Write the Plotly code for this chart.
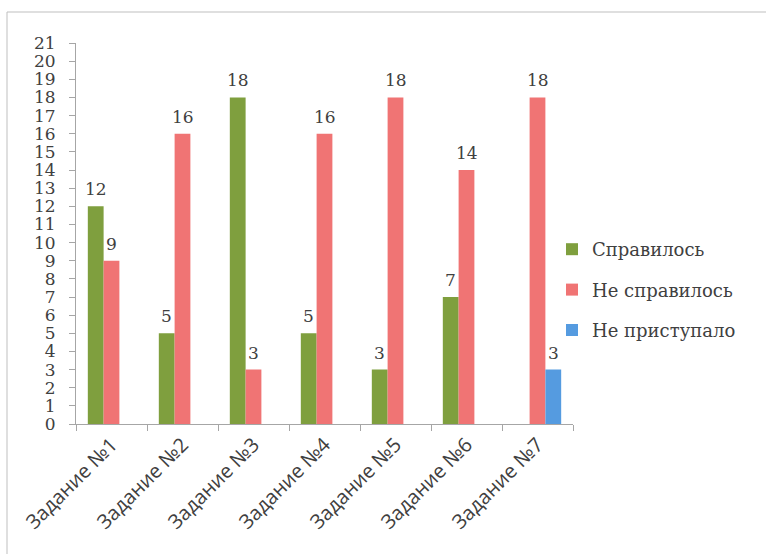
import plotly.graph_objects as go

categories = ["Задание №1", "Задание №2", "Задание №3", "Задание №4",
              "Задание №5", "Задание №6", "Задание №7"]
done = [12, 5, 18, 5, 3, 7, None]
failed = [9, 16, 3, 16, 18, 14, 18]
not_started = [None, None, None, None, None, None, 3]

series = [
    ("Справилось", done, "#7F9F3E"),
    ("Не справилось", failed, "#F07474"),
    ("Не приступало", not_started, "#559BE0"),
]

W, H = 766, 554
L, R, T, B = 76, 193, 43, 130
serif = "DejaVu Serif"
txt = "#404040"
axis_col = "#A6A6A6"

fig = go.Figure()
for i, (name, vals, col) in enumerate(series):
    fig.add_trace(go.Bar(
        x=categories, y=vals, name=name, marker_color=col,
        marker_line_width=0, legendgroup=name,
    ))

# data labels above bars
bargap = 0.333
cat_px = (W - L - R) / len(categories)
slot = cat_px * (1 - bargap) / len(series)
for i, (name, vals, col) in enumerate(series):
    for c, v in zip(categories, vals):
        if v is None:
            continue
        fig.add_annotation(
            x=c, y=v, text=str(v), showarrow=False,
            xshift=(i - 1) * slot, yshift=5, yanchor="bottom",
            font=dict(family=serif, size=17, color=txt),
        )

# outer frame
x0 = (7 - L) / (W - L - R)
y1 = (H - B - 12) / (H - B - T)
fig.add_shape(type="rect", xref="paper", yref="paper",
              x0=x0, x1=1.6, y0=-0.6, y1=y1,
              line=dict(color="#BFBFBF", width=1), layer="below")

fig.update_layout(
    width=W, height=H,
    margin=dict(l=L, r=R, t=T, b=B),
    barmode="group", bargap=bargap, bargroupgap=0,
    plot_bgcolor="white", paper_bgcolor="white",
    showlegend=True,
    legend=dict(
        x=(552 - L) / (W - L - R), xanchor="left",
        y=(H - B - 231) / (H - B - T), yanchor="top",
        font=dict(family=serif, size=18, color=txt),
        tracegroupgap=14, traceorder="grouped",
        bgcolor="rgba(0,0,0,0)",
    ),
    xaxis=dict(
        type="category", showline=True, linecolor=axis_col, linewidth=1,
        ticks="outside", tickson="boundaries", ticklen=6, tickcolor=axis_col,
        tickangle=-45, showgrid=False,
        tickfont=dict(family="Open Sans", size=20, color=txt),
    ),
    yaxis=dict(
        range=[0, 21], dtick=1, tick0=0, showline=True, linecolor=axis_col,
        linewidth=1, ticks="outside", ticklen=6, tickcolor=axis_col,
        showgrid=False, zeroline=False, ticklabelstandoff=10,
        tickfont=dict(family=serif, size=17, color=txt),
    ),
)

fig.write_html("out.html")
